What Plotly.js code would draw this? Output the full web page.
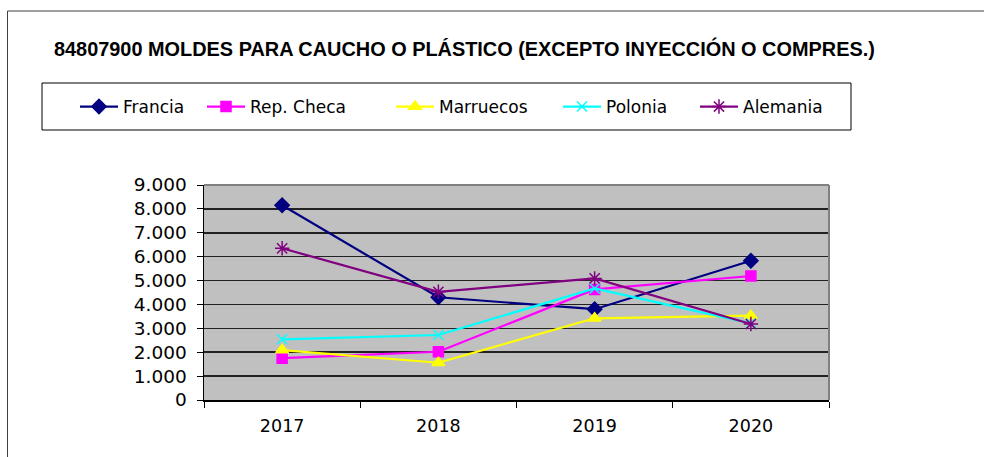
<!DOCTYPE html>
<html>
<head>
<meta charset="utf-8">
<script src="https://cdn.plot.ly/plotly-3.0.1.min.js"></script>
<style>html,body{margin:0;padding:0;background:#fff;}#chart{width:984px;height:457px;}</style>
</head>
<body>
<div id="chart"></div>
<script>
const years = ['2017', '2018', '2019', '2020'];
const francia = [8150, 4300, 3800, 5830];
const repCheca = [1750, 2020, 4630, 5190];
const marruecos = [2090, 1560, 3420, 3530];
const polonia = [2540, 2720, 4670, 3210];
const alemania = [6350, 4530, 5090, 3180];
const yTicks = [0, 1000, 2000, 3000, 4000, 5000, 6000, 7000, 8000, 9000];
const titleText = '84807900 MOLDES PARA CAUCHO O PLÁSTICO (EXCEPTO INYECCIÓN O COMPRES.)';

const L = 204, R = 829, T = 185, B = 400;
const W = R - L, H = B - T;
const px = v => (v - L) / W;
const py = v => 1 + (T - v) / H;

function tr(name, y, color, symbol, size, legend) {
  return {
    x: years, y: y, name: name, type: 'scatter', mode: 'lines+markers',
    line: {color: color, width: 2.2},
    marker: {symbol: symbol, size: size, color: color, line: {color: color, width: 1.5}},
    legend: legend
  };
}
const data = [
  tr('Francia', francia, '#000080', 'diamond', 11, 'legend'),
  tr('Rep. Checa', repCheca, '#FF00FF', 'square', 10, 'legend2'),
  tr('Marruecos', marruecos, '#FFFF00', 'triangle-up', 11, 'legend3'),
  tr('Polonia', polonia, '#00FFFF', 'x-thin-open', 10, 'legend4'),
  tr('Alemania', alemania, '#800080', 'asterisk-open', 12, 'legend5')
];

const legFont = {family: 'DejaVu Sans', size: 17, color: '#000'};
function leg(textStart) {
  return {x: px(textStart - 48), xanchor: 'left', y: py(107), yanchor: 'middle', orientation: 'h',
    itemwidth: 38,
    font: legFont, bgcolor: 'rgba(0,0,0,0)', borderwidth: 0, itemclick: false};
}

const layout = {
  width: 984, height: 457,
  margin: {l: L, r: 984 - R, t: T, b: 457 - B, pad: 0},
  paper_bgcolor: '#ffffff', plot_bgcolor: '#c0c0c0',
  separators: ',.',
  showlegend: true,
  legend: leg(123), legend2: leg(250), legend3: leg(439), legend4: leg(606), legend5: leg(743),
  xaxis: {type: 'category', range: [-0.5, 3.5], tickson: 'boundaries', ticks: 'outside', ticklen: 6,
    tickcolor: '#000', showline: true, linecolor: '#000', linewidth: 1.5, showgrid: false, zeroline: false,
    ticklabelstandoff: 9,
    tickfont: {family: 'DejaVu Sans', size: 17.5, color: '#000'}, fixedrange: true},
  yaxis: {range: [0, 9000], tickvals: yTicks, tickformat: ',d', ticks: 'outside', ticklen: 6,
    tickcolor: '#000', showline: true, linecolor: '#000', linewidth: 1.5, showgrid: true,
    gridcolor: '#222222', gridwidth: 1.6, zeroline: false, ticklabelstandoff: 6,
    tickfont: {family: 'DejaVu Sans', size: 18.5, color: '#000'}, fixedrange: true},
  annotations: [
    {text: '<b>' + titleText + '</b>', xref: 'paper', yref: 'paper', x: px(52), y: py(48),
      xanchor: 'left', yanchor: 'middle', showarrow: false,
      font: {family: 'Liberation Sans', size: 19.9, color: '#000'}}
  ],
  shapes: [
    {type: 'rect', xref: 'paper', yref: 'paper', x0: px(7.5), x1: px(1000), y0: py(470), y1: py(11),
      line: {color: '#404040', width: 1}, fillcolor: 'rgba(0,0,0,0)', layer: 'below'},
    {type: 'rect', xref: 'paper', yref: 'paper', x0: px(42), x1: px(851), y0: py(130), y1: py(83),
      line: {color: '#000', width: 1}, fillcolor: 'rgba(0,0,0,0)'},
    {type: 'line', xref: 'paper', yref: 'paper', x0: 0, x1: 1, y0: 1, y1: 1, line: {color: '#808080', width: 2}},
    {type: 'line', xref: 'paper', yref: 'paper', x0: 1, x1: 1, y0: 0, y1: 1, line: {color: '#808080', width: 2}}
  ]
};
Plotly.newPlot('chart', data, layout, {displayModeBar: false, staticPlot: true});
</script>
</body>
</html>
